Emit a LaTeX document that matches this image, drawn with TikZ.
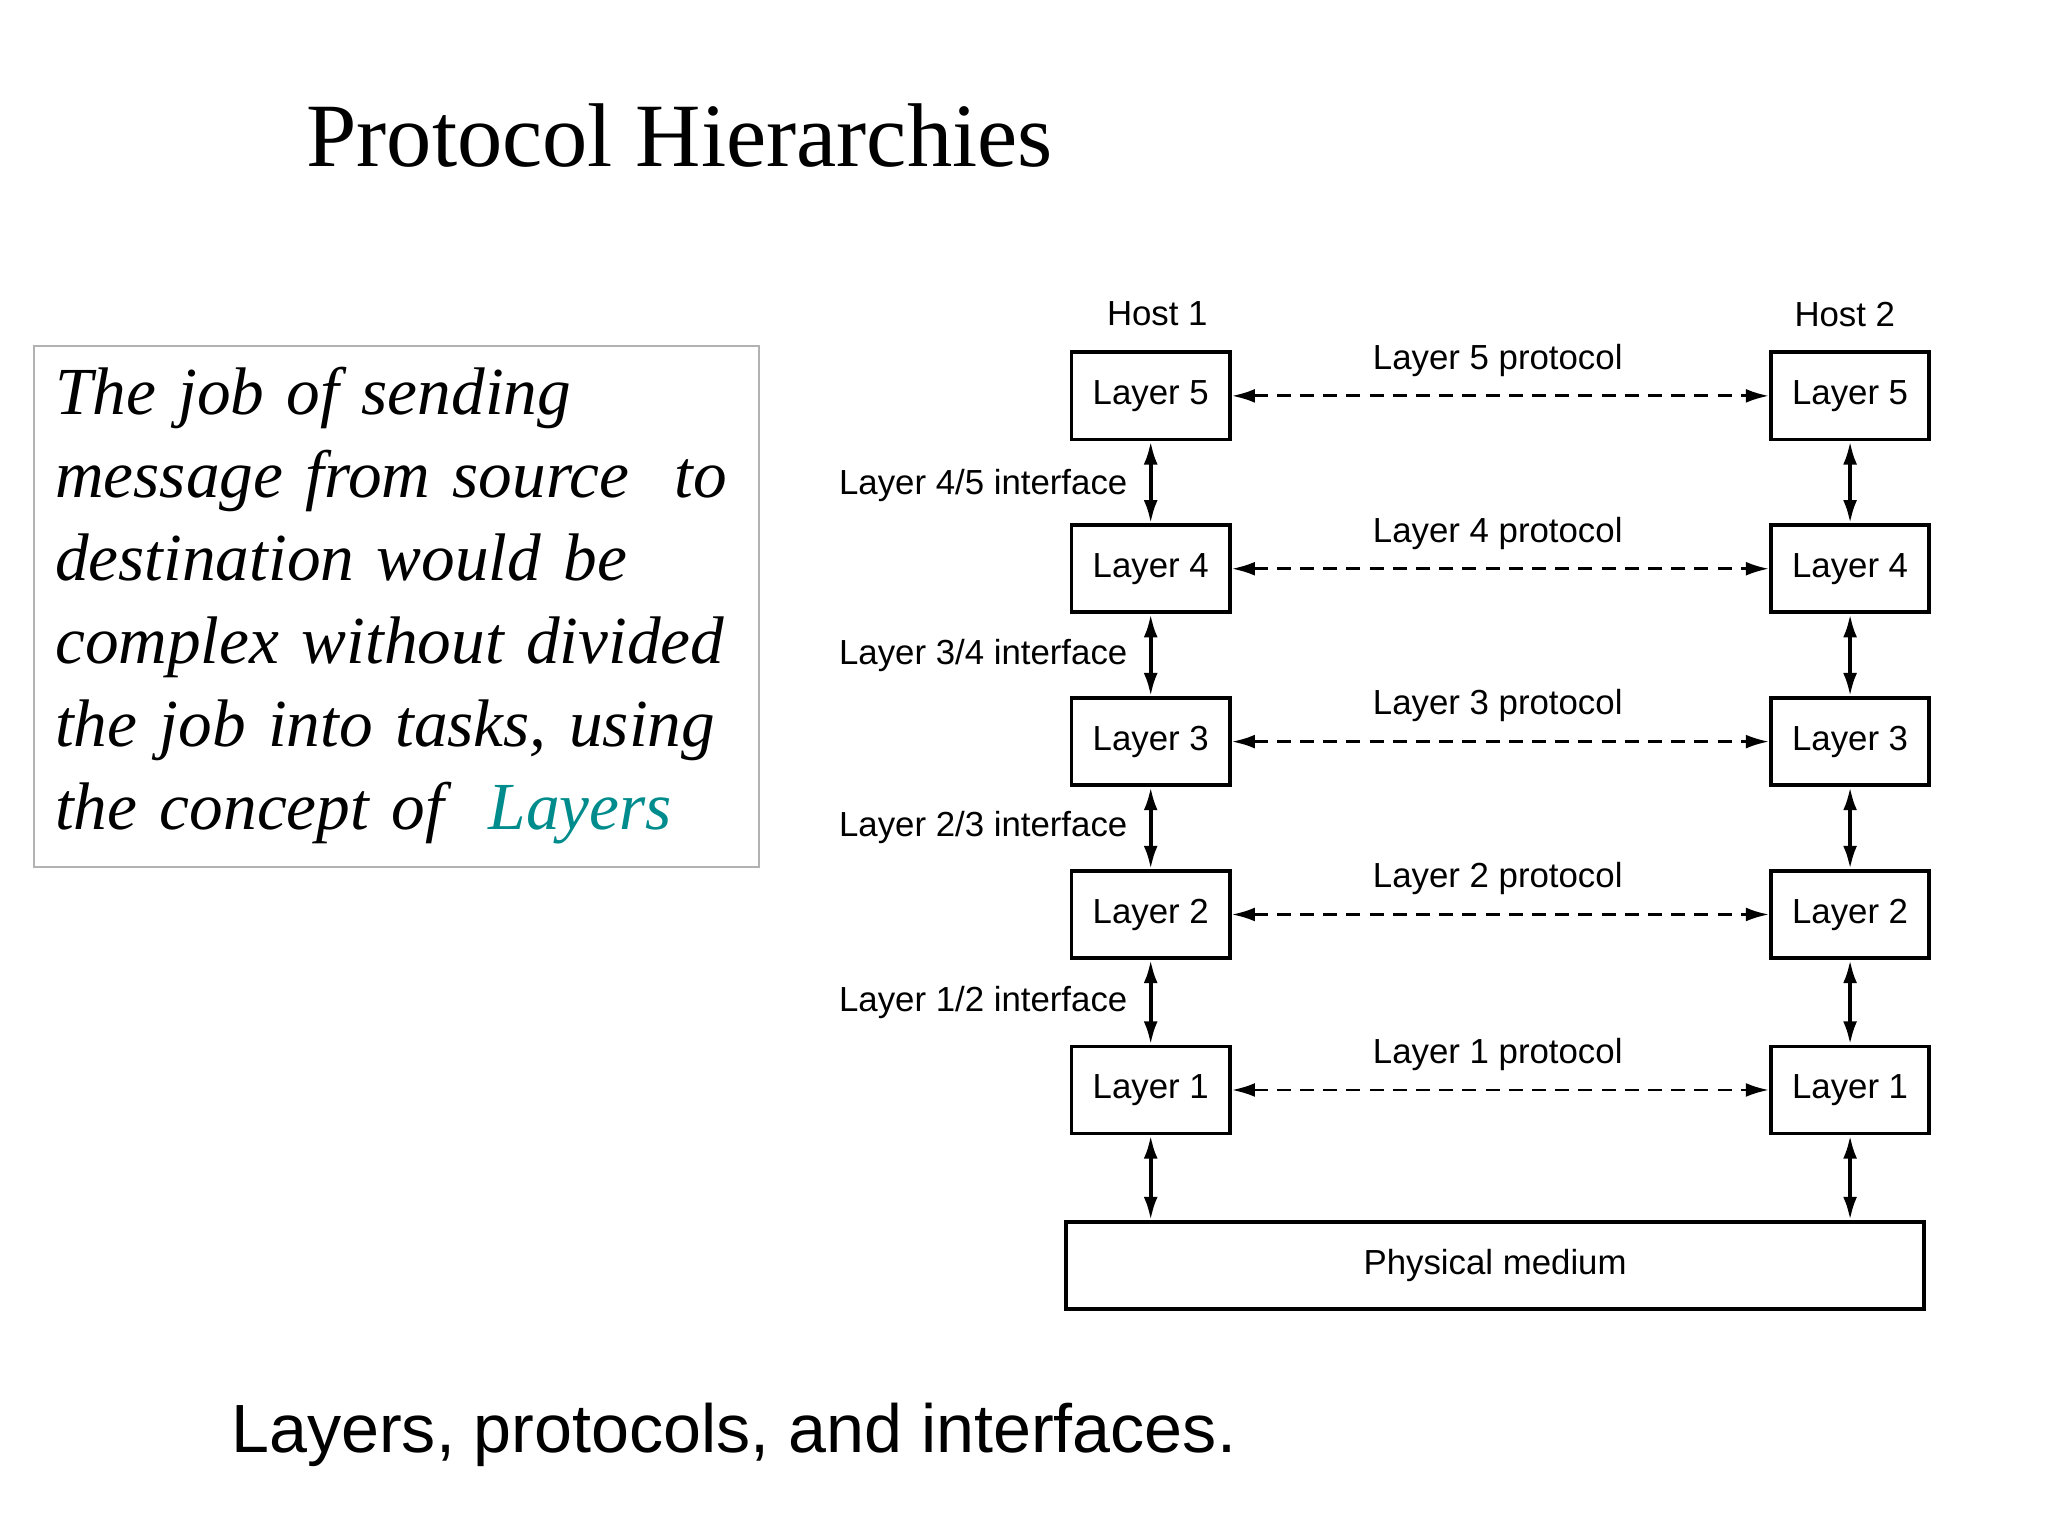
\documentclass[tikz,border=0pt]{standalone}
\usepackage{fontspec}
\setmainfont{Liberation Serif}
\newfontfamily\lsans{Liberation Sans}
\usetikzlibrary{arrows.meta}
\definecolor{teal2}{RGB}{0,140,140}
\newcommand{\jline}[1]{\makebox[5.17cm][s]{#1}\par}
\begin{document}
\begin{tikzpicture}[x=0.01cm,y=-0.01cm,
  lbox/.style={draw,line width=0.8pt,minimum width=1.2cm,minimum height=0.66cm,inner sep=0pt,font=\lsans\fontsize{7.5}{9}\selectfont},
  lab/.style={font=\lsans\fontsize{7.5}{9}\selectfont,inner sep=0pt},
  varr/.style={{Latex[length=5pt,width=3pt]}-{Latex[length=5pt,width=3pt]},line width=0.8pt},
  darr/.style={{Latex[length=5pt,width=3pt]}-{Latex[length=5pt,width=3pt]},dashed,line width=0.6pt,dash pattern=on 3pt off 2pt}]
\useasboundingbox (0,0) rectangle (1552,1164);
\node[font=\fontsize{19.5}{23}\selectfont,inner sep=0pt] (title) at (515,103) {Protocol Hierarchies};
\node[draw=black!30,fill=white,inner sep=0pt,minimum width=5.49cm,minimum height=3.95cm] (tb) at (300.5,459.5) {};
\node[inner sep=0pt,text width=5.17cm,align=left,font=\fontsize{14.5}{17.9}\selectfont\itshape] (txt) at (300.5,459) {\parindent=0pt
\jline{The job of sending}
\jline{message from source~ to}
\jline{destination would be}
\jline{complex without divided}
\jline{the job into tasks, using}
the concept of~ {\color{teal2}Layers}\par};
\node[lab] (h1) at (877,238) {Host 1};
\node[lab] (h2) at (1398,238) {Host 2};
\foreach \n/\y in {5/300,4/431,3/562,2/693,1/826}{
  \node[lbox] (L\n) at (872,\y) {Layer \n};
  \node[lbox] (R\n) at (1402,\y) {Layer \n};
  \node[lab] (p\n) at (1135,\y-27) {Layer \n\ protocol};
  \draw[darr] (L\n) -- (R\n);
}
\node[draw,line width=0.8pt,minimum width=6.5cm,minimum height=0.66cm,inner sep=0pt,font=\lsans\fontsize{7.5}{9}\selectfont] (phy) at (1133,959) {Physical medium};
\foreach \a/\b/\y/\t in {5/4/368/4\slash 5,4/3/497/3\slash 4,3/2/627/2\slash 3,2/1/760/1\slash 2}{
  \draw[varr] (L\a) -- (L\b);
  \draw[varr] (R\a) -- (R\b);
  \node[lab,anchor=east] (i\a) at (855,\y) {Layer \t\ interface};
}
\draw[varr] (L1.south) -- (L1.south |- phy.north);
\draw[varr] (R1.south) -- (R1.south |- phy.north);
\node[font=\lsans\fontsize{14.7}{17}\selectfont,inner sep=0pt] (cap) at (556,1087) {Layers, protocols, and interfaces.};
\end{tikzpicture}
\end{document}
